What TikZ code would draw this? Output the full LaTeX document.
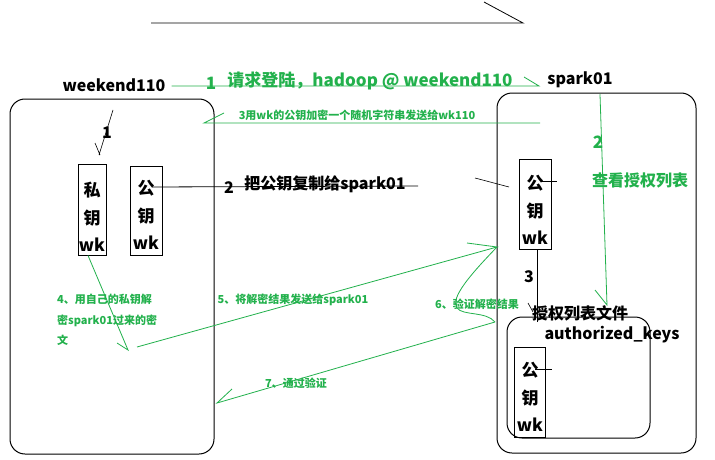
\documentclass[tikz,border=0pt]{standalone}
\usepackage{fontspec}
\setmainfont{Noto Sans CJK SC}
\usetikzlibrary{calc}
\definecolor{paintgreen}{RGB}{34,177,76}

\begin{document}
\begin{tikzpicture}[x=1pt,y=-1pt,
    host/.style={draw,line width=1pt,rounded corners=15pt,inner sep=0pt},
    keybox/.style={draw,line width=0.9pt,inner sep=0pt},
    keytext/.style={align=center,inner sep=0pt,font=\bfseries\fontsize{17}{27.5}\selectfont},
    bigtext/.style={inner sep=0pt,font=\bfseries\fontsize{16}{19}\selectfont},
    gtext/.style={text=paintgreen,inner sep=0pt,font=\bfseries\fontsize{17}{20}\selectfont},
    gsmall/.style={text=paintgreen,inner sep=0pt,font=\bfseries\fontsize{11}{20.5}\selectfont},
    gline/.style={draw=paintgreen,line width=0.8pt}]
  \useasboundingbox (0,0) rectangle (715,460);
  \fill[white] (0,0) rectangle (715,460);

  \draw[line width=0.8pt] (151,23) -- (523,23) -- (484,2);

  \node[host,minimum width=204pt,minimum height=355pt] (wkhost) at (112,276.5) {};
  \node[host,minimum width=199pt,minimum height=360pt] (sphost) at (596.5,273) {};
  \node[bigtext] (wk110) at (114,85) {weekend110};
  \node[bigtext] (sp01) at (580,80) {spark01};

  \node[keybox,minimum width=28pt,minimum height=91pt] (prikey) at (92,209.5) {};
  \node[keytext] at (92,217) {私\\钥\\wk};
  \node[keybox,minimum width=32pt,minimum height=89pt] (pubkey) at (146,210.5) {};
  \node[keytext] at (146,215) {公\\钥\\wk};
  \node[keybox,minimum width=32pt,minimum height=90pt] (sppub) at (535,204) {};
  \node[keytext] at (535,210) {公\\钥\\wk};
  \node[host,minimum width=143pt,minimum height=121pt] (akeys) at (578.5,377.5) {};
  \node[keybox,minimum width=31pt,minimum height=90pt] (akpub) at (529.5,392) {};
  \node[keytext] at (530,397) {公\\钥\\wk};

  \coordinate (reqend) at (539,86);
  \draw[gline] ([xshift=6pt,yshift=-1pt]wk110.east) -- (reqend) -- (524,77);
  \node[gtext] (n1) at (211,83) {1};
  \node[gtext] (req) at (370,81) {请求登陆，hadoop @ weekend110};

  \coordinate (encstart) at (540,123);
  \coordinate (encend) at (204,123);
  \draw[gline] (encstart) -- (encend) -- (224,113);
  \node[gsmall] (enc) at (357,115) {3用wk的公钥加密一个随机字符串发送给wk110};

  \node[bigtext] (s1) at (107,133) {1};
  \draw[line width=0.6pt] (113,110) -- (99,155) (95,143) -- (100,155);

  \coordinate (copystart) at (152,187);
  \coordinate (copyend) at (418,186);
  \draw[line width=0.8pt] (copystart) -- (copyend);
  \draw[line width=0.6pt] (475,178) -- (509,187);
  \node[bigtext] (s2) at (229,188) {2};
  \node[bigtext] (copy) at (325,184) {把公钥复制给spark01};

  \draw[line width=0.8pt] (541,181) -- (557,181);
  \coordinate (fileend) at (537,322);
  \draw[line width=0.8pt] ([xshift=2pt]sppub.south) -- (fileend);
  \draw[line width=0.6pt] (528,303) -- (533,312);
  \node[bigtext] (s3) at (529,277) {3};
  \node[bigtext] (akfile) at (580,313) {授权列表文件};
  \node[bigtext] (akname) at (612,335) {authorized\_keys};
  \draw[line width=0.8pt] (535,369) -- (552,369);

  \coordinate (lookend) at (607,305);
  \draw[gline] ([xshift=20pt,yshift=-6pt]sp01.south) -- (lookend) -- (595,290);
  \node[gtext] (n2) at (598,142) {2};
  \node[gtext,font=\bfseries\fontsize{16}{19}\selectfont] (look) at (640,180) {查看授权列表};

  \coordinate (decend) at (128,350);
  \draw[gline] ([xshift=-4pt]prikey.south) -- (decend) -- (117,343);
  \node[gsmall,align=left,anchor=north west] (dec) at (57,294) {4、用自己的私钥解\\密spark01过来的密\\文};

  \coordinate (sendstart) at (137,347);
  \coordinate (sendend) at (497,247);
  \draw[gline] (sendstart) -- (sendend) -- (467,243);
  \node[gsmall] (send) at (293,300) {5、将解密结果发送给spark01};

  \coordinate (checkend) at (495,322);
  \draw[gline] (sendend) .. controls (470,275) and (450,298) .. (457,308)
    .. controls (463,316) and (486,311) .. (checkend);
  \node[gsmall] (check) at (477,304) {6、验证解密结果};

  \coordinate (passend) at (217,403);
  \draw[gline] (checkend) -- (passend) -- (232,389);
  \node[gsmall] (pass) at (296,383) {7、通过验证};
\end{tikzpicture}
\end{document}
